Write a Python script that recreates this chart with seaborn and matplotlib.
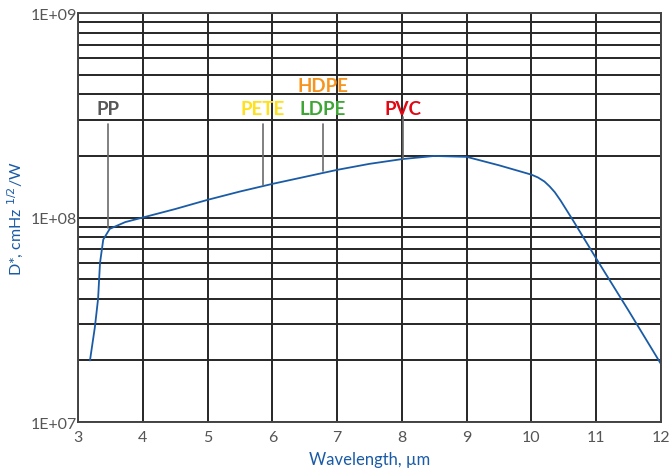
"""Detectivity spectrum of the detector with polymer absorption markers."""
import matplotlib
matplotlib.use("Agg")
import matplotlib.pyplot as plt
import pandas as pd
import seaborn as sns

wavelength = [3.185, 3.26, 3.31, 3.34, 3.39, 3.49, 3.73, 4.0, 4.5, 5.0, 5.5, 6.0,
              6.5, 7.0, 7.5, 8.0, 8.5, 9.0, 9.5, 9.8, 10.0, 10.1, 10.2, 10.28, 10.36,
              10.45, 10.64, 11.0, 11.5, 12.0]
detectivity = [2.0e7, 2.9e7, 4.0e7, 6.0e7, 7.8e7, 8.8e7, 9.5e7, 1.0e8, 1.1e8, 1.22e8,
               1.34e8, 1.46e8, 1.58e8, 1.71e8, 1.83e8, 1.93e8, 2.0e8, 1.98e8, 1.8e8,
               1.69e8, 1.62e8, 1.57e8, 1.50e8, 1.42e8, 1.33e8, 1.21e8, 9.7e7, 6.3e7,
               3.5e7, 1.92e7]

polymers = ["PP", "PETE", "LDPE", "HDPE", "PVC"]
polymer_x = [3.47, 5.85, 6.78, 6.78, 8.02]
polymer_colors = ["#575757", "#FFE11A", "#3FA535", "#F7941D", "#E30613"]
# curve value where each marker line ends (HDPE shares the LDPE line)
marker_end = [8.9e7, 1.44e8, 1.69e8, None, 1.93e8]
marker_top = [2.87e8, 2.87e8, 2.87e8, None, 3.1e8]

y_ticks = [1e7, 1e8, 1e9]
y_ticklabels = ["1E+07", "1E+08", "1E+09"]

sns.set_theme(style="white")
plt.rcParams["font.family"] = ["Lato", "DejaVu Sans"]

df = pd.DataFrame({"wavelength": wavelength, "D": detectivity})

fig = plt.figure(figsize=(6.7, 4.77), dpi=100)
ax = fig.add_axes([0.1164, 0.1132, 0.8702, 0.8574])

sns.lineplot(data=df, x="wavelength", y="D", ax=ax, color="#1A5BA6", linewidth=1.3)

ax.set_yscale("log")
ax.set_xlim(3, 12)
ax.set_ylim(1e7, 1e9)
ax.set_xticks(range(3, 13))
ax.set_yticks(y_ticks)
ax.set_yticklabels(y_ticklabels)
ax.grid(True, which="both", color="#262626", linewidth=1.4)
ax.set_axisbelow(True)
for s in ax.spines.values():
    s.set_color("#444444")
    s.set_linewidth(1.4)
ax.tick_params(axis="both", which="both", length=0, labelsize=11.5, labelcolor="#555555")
ax.tick_params(axis="x", pad=6)
ax.tick_params(axis="y", pad=1)

ax.set_xlabel("Wavelength, µm", color="#1A5BA6", fontsize=12, labelpad=5)
ax.set_ylabel("D*, cmHz $^{1/2}$/W", color="#1A5BA6", fontsize=11.5, labelpad=4)

label_y = {"HDPE": 4.4e8}
for name, xv, col, lo, hi in zip(polymers, polymer_x, polymer_colors, marker_end, marker_top):
    if lo is not None:
        ax.plot([xv, xv], [lo, hi], color="#6b6b6b", linewidth=1.2, zorder=2)
    ax.text(xv, label_y.get(name, 3.4e8), name, color=col, fontsize=13.5,
            fontweight="bold", ha="center", va="center", zorder=4)

fig.savefig("out.png", dpi=100)
plt.close(fig)
